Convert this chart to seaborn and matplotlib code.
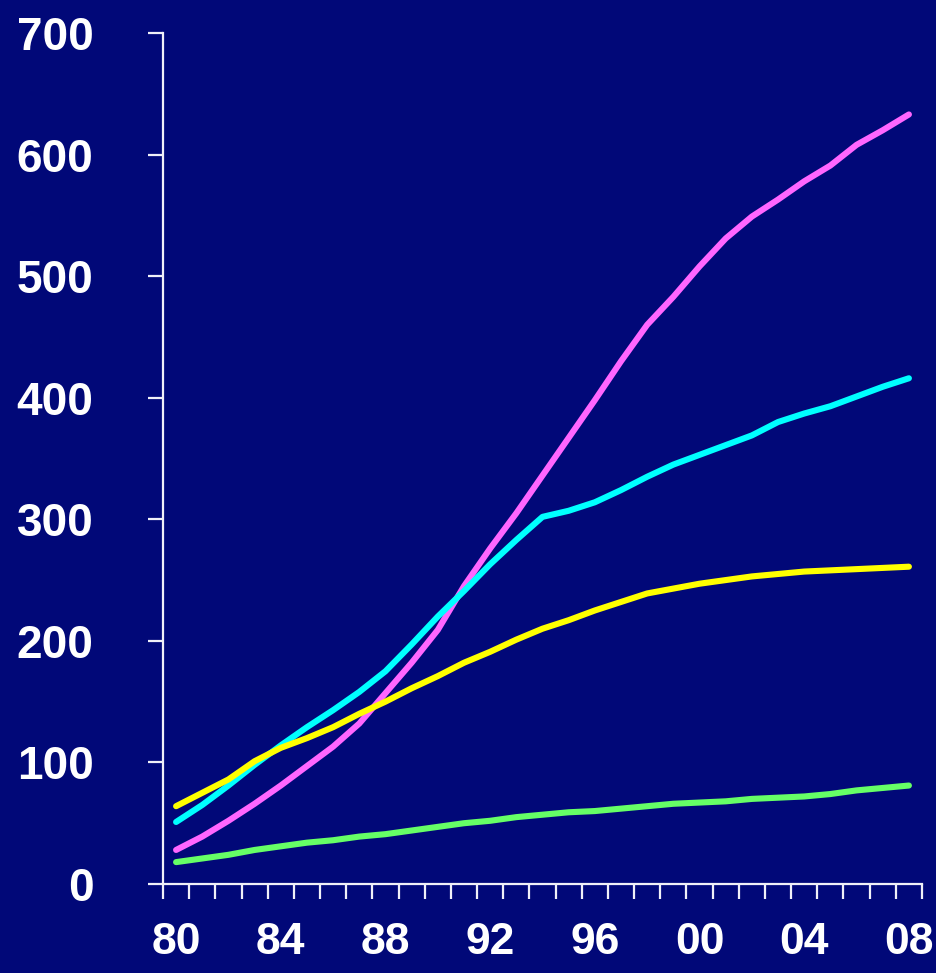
import matplotlib
matplotlib.use("Agg")
import matplotlib.pyplot as plt
from matplotlib.ticker import FixedLocator
import numpy as np
import pandas as pd
import seaborn as sns

# Yearly series, 1980-2008
years = list(range(1980, 2009))
series_pink = [28, 39, 52, 66, 81, 97, 113, 132, 157, 182, 209, 245, 276, 305, 336,
               367, 398, 430, 460, 483, 508, 531, 549, 563, 578, 591, 608, 620, 633]
series_cyan = [51, 65, 81, 98, 114, 129, 143, 158, 175, 197, 220, 241, 263, 283, 302,
               307, 314, 324, 335, 345, 353, 361, 369, 380, 387, 393, 401, 409, 416]
series_yellow = [64, 75, 86, 101, 112, 120, 129, 140, 150, 161, 171, 182, 191, 201, 210,
                 217, 225, 232, 239, 243, 247, 250, 253, 255, 257, 258, 259, 260, 261]
series_green = [18, 21, 24, 28, 31, 34, 36, 39, 41, 44, 47, 50, 52, 55, 57,
                59, 60, 62, 64, 66, 67, 68, 70, 71, 72, 74, 77, 79, 81]

x_label_years = [1980, 1984, 1988, 1992, 1996, 2000, 2004, 2008]
x_labels = ["80", "84", "88", "92", "96", "00", "04", "08"]
y_ticks = [0, 100, 200, 300, 400, 500, 600, 700]

series_names = ["pink", "cyan", "yellow", "green"]
palette = {"pink": "#FF66FF", "cyan": "#00FFFF", "yellow": "#FFFF00", "green": "#66FF66"}

df = pd.concat([
    pd.DataFrame({"year": years, "value": vals, "series": name})
    for name, vals in zip(series_names, [series_pink, series_cyan, series_yellow, series_green])
], ignore_index=True)

bg = "#010878"
sns.set_theme(style="white")
plt.rcParams["font.family"] = ["Liberation Sans", "DejaVu Sans"]

fig = plt.figure(figsize=(9.37, 9.73), dpi=100, facecolor=bg)
ax = fig.add_axes([163 / 937, 1 - 884 / 973, (922 - 163) / 937, (884 - 33) / 973])
ax.set_facecolor(bg)

sns.lineplot(data=df, x="year", y="value", hue="series", hue_order=series_names,
             palette=palette, linewidth=4.4, legend=False, ax=ax,
             solid_capstyle="round", solid_joinstyle="round")

ax.set_xlim(1979.5, 2008.5)
ax.set_ylim(0, 700)
ax.set_xlabel("")
ax.set_ylabel("")

for side in ["top", "right"]:
    ax.spines[side].set_visible(False)
for side in ["left", "bottom"]:
    ax.spines[side].set_color("#F0F0F8")
    ax.spines[side].set_linewidth(1.6)

# y axis ticks
ax.set_yticks(y_ticks)
ax.set_yticklabels([str(v) for v in y_ticks])
ax.tick_params(axis="y", which="major", direction="out", length=11, width=1.6,
               color="#F0F0F8", pad=39, labelsize=33, labelcolor="white", left=True)

# x axis: labels at the years, tick marks at the year boundaries
ax.xaxis.set_major_locator(FixedLocator(x_label_years))
ax.set_xticklabels(x_labels)
ax.xaxis.set_minor_locator(FixedLocator(np.arange(1979.5, 2009.0, 1.0)))
ax.tick_params(axis="x", which="major", length=0, pad=27, labelsize=32,
               labelcolor="white", bottom=True)
ax.tick_params(axis="x", which="minor", direction="out", length=10.5, width=1.6,
               color="#F0F0F8", bottom=True)

for lab in ax.get_xticklabels() + ax.get_yticklabels():
    lab.set_fontweight("bold")

fig.savefig("out.png", dpi=100, facecolor=bg)
